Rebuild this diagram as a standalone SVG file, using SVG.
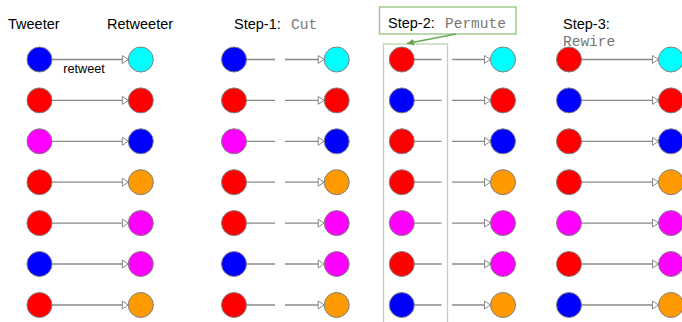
<svg xmlns="http://www.w3.org/2000/svg" width="682" height="322" viewBox="0 0 682 322">
<defs>
<style>
.t{font-family:"Liberation Sans",Arial,sans-serif;font-size:14.5px;fill:#000}
.m{font-family:"Liberation Mono","Courier New",monospace;font-size:14.5px;fill:#777}
.n circle{stroke:#808080;stroke-width:1}
.b{fill:#0000ff}.r{fill:#ff0000}.p{fill:#ff00ff}.c{fill:#00ffff}.o{fill:#ff9900}
.e{stroke:#8a8a8a;stroke-width:1.3;fill:none}
.a path{marker-end:url(#ah)}
</style>
<marker id="ah" markerUnits="userSpaceOnUse" markerWidth="9" markerHeight="10" refX="7" refY="5" orient="auto">
<path d="M1,1 L7,5 L1,9 z" fill="#fff" stroke="#888" stroke-width="1"/>
</marker>
<marker id="ga" markerUnits="userSpaceOnUse" markerWidth="9" markerHeight="8" refX="7" refY="4" orient="auto">
<path d="M0,0.5 L7,4 L0,7.5 z" fill="#6aa84f"/>
</marker>
</defs>
<rect width="682" height="322" fill="#fff"/>
<g id="labels">
<text class="t" x="8" y="29">Tweeter</text>
<text class="t" x="107" y="29">Retweeter</text>
<text class="t" x="234" y="29">Step-1:</text>
<text class="m" x="291" y="29">Cut</text>
<text class="t" x="563" y="29">Step-3:</text>
<text class="m" x="563" y="46">Rewire</text>
<text class="t" x="84" y="73" text-anchor="middle" style="font-size:12.7px">retweet</text>
</g>
<g id="step2">
<rect x="379.5" y="7" width="136.5" height="27" fill="none" stroke="#93c47d" stroke-width="1.3"/>
<text class="t" x="388" y="28">Step-2:</text>
<text class="m" x="445" y="28">Permute</text>
<rect x="383.5" y="44" width="64" height="290" fill="none" stroke="#b6d7a8" stroke-width="1.3"/>
<line x1="456" y1="34" x2="407" y2="43.5" stroke="#6aa84f" stroke-width="1.3" marker-end="url(#ga)"/>
</g>
<g id="connectors">
<g class="e a">
<path d="M52,59.5H128.3"/><path d="M52,100.4H128.3"/><path d="M52,141.3H128.3"/><path d="M52,182.2H128.3"/><path d="M52,223.1H128.3"/><path d="M52,264H128.3"/><path d="M52,305H128.3"/>
</g>
<path class="e" d="M246.5,59.5H275M246.5,100.4H275M246.5,141.3H275M246.5,182.2H275M246.5,223.1H275M246.5,264H275M246.5,305H275"/>
<g class="e a">
<path d="M285,59.5H324.2"/><path d="M285,100.4H324.2"/><path d="M285,141.3H324.2"/><path d="M285,182.2H324.2"/><path d="M285,223.1H324.2"/><path d="M285,264H324.2"/><path d="M285,305H324.2"/>
</g>
<path class="e" d="M414.3,59.5H441.5M414.3,100.4H441.5M414.3,141.3H441.5M414.3,182.2H441.5M414.3,223.1H441.5M414.3,264H441.5M414.3,305H441.5"/>
<g class="e a">
<path d="M452,59.5H490.5"/><path d="M452,100.4H490.5"/><path d="M452,141.3H490.5"/><path d="M452,182.2H490.5"/><path d="M452,223.1H490.5"/><path d="M452,264H490.5"/><path d="M452,305H490.5"/>
</g>
<g class="e a">
<path d="M581.5,59.5H658.5"/><path d="M581.5,100.4H658.5"/><path d="M581.5,141.3H658.5"/><path d="M581.5,182.2H658.5"/><path d="M581.5,223.1H658.5"/><path d="M581.5,264H658.5"/><path d="M581.5,305H658.5"/>
</g>
</g>
<g class="n">
<g id="t1a"><circle class="b" cx="39.5" cy="59.5" r="12.5"/></g>
<g id="t1b"><circle class="r" cx="39.5" cy="100.4" r="12.5"/></g>
<g id="t1c"><circle class="p" cx="39.5" cy="141.3" r="12.5"/></g>
<g id="t1d"><circle class="r" cx="39.5" cy="182.2" r="12.5"/></g>
<g id="t1e"><circle class="r" cx="39.5" cy="223.1" r="12.5"/></g>
<g id="t1f"><circle class="b" cx="39.5" cy="264" r="12.5"/></g>
<g id="t1g"><circle class="r" cx="39.5" cy="305" r="12.5"/></g>
<g id="r1a"><circle class="c" cx="140.8" cy="59.5" r="12.5"/></g>
<g id="r1b"><circle class="r" cx="140.8" cy="100.4" r="12.5"/></g>
<g id="r1c"><circle class="b" cx="140.8" cy="141.3" r="12.5"/></g>
<g id="r1d"><circle class="o" cx="140.8" cy="182.2" r="12.5"/></g>
<g id="r1e"><circle class="p" cx="140.8" cy="223.1" r="12.5"/></g>
<g id="r1f"><circle class="p" cx="140.8" cy="264" r="12.5"/></g>
<g id="r1g"><circle class="o" cx="140.8" cy="305" r="12.5"/></g>
<g id="t2a"><circle class="b" cx="234" cy="59.5" r="12.5"/></g>
<g id="t2b"><circle class="r" cx="234" cy="100.4" r="12.5"/></g>
<g id="t2c"><circle class="p" cx="234" cy="141.3" r="12.5"/></g>
<g id="t2d"><circle class="r" cx="234" cy="182.2" r="12.5"/></g>
<g id="t2e"><circle class="r" cx="234" cy="223.1" r="12.5"/></g>
<g id="t2f"><circle class="b" cx="234" cy="264" r="12.5"/></g>
<g id="t2g"><circle class="r" cx="234" cy="305" r="12.5"/></g>
<g id="r2a"><circle class="c" cx="336.7" cy="59.5" r="12.5"/></g>
<g id="r2b"><circle class="r" cx="336.7" cy="100.4" r="12.5"/></g>
<g id="r2c"><circle class="b" cx="336.7" cy="141.3" r="12.5"/></g>
<g id="r2d"><circle class="o" cx="336.7" cy="182.2" r="12.5"/></g>
<g id="r2e"><circle class="p" cx="336.7" cy="223.1" r="12.5"/></g>
<g id="r2f"><circle class="p" cx="336.7" cy="264" r="12.5"/></g>
<g id="r2g"><circle class="o" cx="336.7" cy="305" r="12.5"/></g>
<g id="t3a"><circle class="r" cx="401.8" cy="59.5" r="12.5"/></g>
<g id="t3b"><circle class="b" cx="401.8" cy="100.4" r="12.5"/></g>
<g id="t3c"><circle class="r" cx="401.8" cy="141.3" r="12.5"/></g>
<g id="t3d"><circle class="r" cx="401.8" cy="182.2" r="12.5"/></g>
<g id="t3e"><circle class="p" cx="401.8" cy="223.1" r="12.5"/></g>
<g id="t3f"><circle class="r" cx="401.8" cy="264" r="12.5"/></g>
<g id="t3g"><circle class="b" cx="401.8" cy="305" r="12.5"/></g>
<g id="r3a"><circle class="c" cx="503" cy="59.5" r="12.5"/></g>
<g id="r3b"><circle class="r" cx="503" cy="100.4" r="12.5"/></g>
<g id="r3c"><circle class="b" cx="503" cy="141.3" r="12.5"/></g>
<g id="r3d"><circle class="o" cx="503" cy="182.2" r="12.5"/></g>
<g id="r3e"><circle class="p" cx="503" cy="223.1" r="12.5"/></g>
<g id="r3f"><circle class="p" cx="503" cy="264" r="12.5"/></g>
<g id="r3g"><circle class="o" cx="503" cy="305" r="12.5"/></g>
<g id="t4a"><circle class="r" cx="569" cy="59.5" r="12.5"/></g>
<g id="t4b"><circle class="b" cx="569" cy="100.4" r="12.5"/></g>
<g id="t4c"><circle class="r" cx="569" cy="141.3" r="12.5"/></g>
<g id="t4d"><circle class="r" cx="569" cy="182.2" r="12.5"/></g>
<g id="t4e"><circle class="p" cx="569" cy="223.1" r="12.5"/></g>
<g id="t4f"><circle class="r" cx="569" cy="264" r="12.5"/></g>
<g id="t4g"><circle class="b" cx="569" cy="305" r="12.5"/></g>
<g id="r4a"><circle class="c" cx="671" cy="59.5" r="12.5"/></g>
<g id="r4b"><circle class="r" cx="671" cy="100.4" r="12.5"/></g>
<g id="r4c"><circle class="b" cx="671" cy="141.3" r="12.5"/></g>
<g id="r4d"><circle class="o" cx="671" cy="182.2" r="12.5"/></g>
<g id="r4e"><circle class="p" cx="671" cy="223.1" r="12.5"/></g>
<g id="r4f"><circle class="p" cx="671" cy="264" r="12.5"/></g>
<g id="r4g"><circle class="o" cx="671" cy="305" r="12.5"/></g>
</g>
</svg>
